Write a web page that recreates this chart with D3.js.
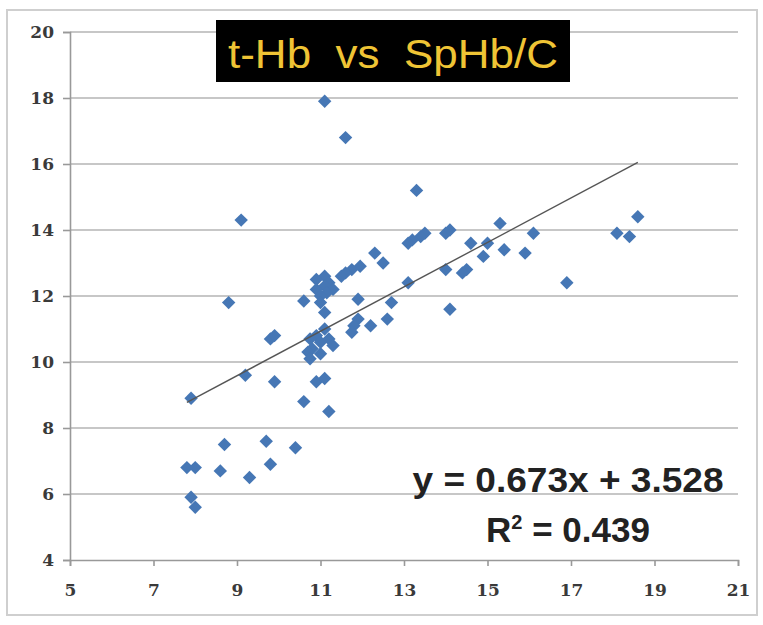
<!DOCTYPE html>
<html>
<head>
<meta charset="utf-8">
<script src="https://cdn.jsdelivr.net/npm/d3@7"></script>
<style>
  body { margin: 0; background: #fff; }
  svg { display: block; }
</style>
</head>
<body>
<svg id="chart" width="763" height="625"></svg>
<script>
'use strict';

// t-Hb (x) vs SpHb/C (y)
var tHb = [
  11.1, 11.6, 9.1, 8.8, 7.9, 9.2, 9.9, 9.8, 9.9, 10.6,
  11.2, 10.9, 11.1, 8.7, 9.7, 10.4, 7.8, 8.0, 8.6, 9.3,
  9.8, 7.9, 8.0, 13.3, 18.6, 18.1, 18.4, 16.9, 15.3, 16.1,
  15.9, 15.4, 15.0, 14.9, 14.6, 14.5, 14.4, 14.0, 14.1, 14.0,
  14.1, 13.5, 13.4, 13.2, 13.1, 13.1, 12.3, 12.5, 12.7, 12.2,
  12.6, 11.95, 11.75, 11.6, 11.5, 11.1, 10.9, 11.2, 11.1, 11.3,
  10.9, 11.15, 11.0, 10.6, 11.0, 11.1, 11.9, 11.9, 11.8, 11.75,
  11.1, 10.9, 11.2, 10.75, 11.0, 11.3, 10.8, 10.7, 11.0, 10.75
];
var spHb = [
  17.9, 16.8, 14.3, 11.8, 8.9, 9.6, 9.4, 10.7, 10.8, 8.8,
  8.5, 9.4, 9.5, 7.5, 7.6, 7.4, 6.8, 6.8, 6.7, 6.5,
  6.9, 5.9, 5.6, 15.2, 14.4, 13.9, 13.8, 12.4, 14.2, 13.9,
  13.3, 13.4, 13.6, 13.2, 13.6, 12.8, 12.7, 12.8, 11.6, 13.9,
  14.0, 13.9, 13.8, 13.7, 13.6, 12.4, 13.3, 13.0, 11.8, 11.1,
  11.3, 12.9, 12.8, 12.7, 12.6, 12.6, 12.5, 12.4, 12.3, 12.2,
  12.2, 12.1, 12.0, 11.85, 11.8, 11.5, 11.9, 11.3, 11.1, 10.9,
  11.0, 10.8, 10.7, 10.7, 10.6, 10.5, 10.4, 10.3, 10.25, 10.1
];

// regression line as printed on the chart
var slope = 0.673;
var intercept = 3.528;
var trendRange = [7.8, 18.6];

var xTicks = [5, 7, 9, 11, 13, 15, 17, 19, 21];
var yTicks = [4, 6, 8, 10, 12, 14, 16, 18, 20];

var titleText = 't-Hb  vs  SpHb/C';
var eqText = 'y = 0.673x + 3.528';
var r2Value = '0.439';

var svg = d3.select('#chart');

var x = d3.scaleLinear().domain([5, 21]).range([70, 738]);
var y = d3.scaleLinear().domain([4, 20]).range([560, 32]);

// outer frame
svg.append('rect')
  .attr('x', 7).attr('y', 10)
  .attr('width', 750).attr('height', 605)
  .attr('fill', '#fff')
  .attr('stroke', '#cfcfcf')
  .attr('stroke-width', 2);

// horizontal gridlines
svg.append('g')
  .selectAll('line')
  .data(yTicks.filter(function(d) { return d > 4; }))
  .join('line')
  .attr('x1', x(5)).attr('x2', x(21))
  .attr('y1', function(d) { return y(d); })
  .attr('y2', function(d) { return y(d); })
  .attr('stroke', '#b4b4b4')
  .attr('stroke-width', 1.6);

// axes
var yAxis = d3.axisLeft(y).tickValues(yTicks).tickSize(7).tickPadding(9);
var xAxis = d3.axisBottom(x).tickValues(xTicks).tickSize(6).tickPadding(18);

var gy = svg.append('g')
  .attr('transform', 'translate(' + x(5) + ',0)')
  .call(yAxis);

var gx = svg.append('g')
  .attr('transform', 'translate(0,' + y(4) + ')')
  .call(xAxis);

[gx, gy].forEach(function(g) {
  g.selectAll('.domain, .tick line')
    .attr('stroke', '#999')
    .attr('stroke-width', 1.6);
  g.selectAll('.tick text')
    .attr('fill', '#3a3a3a')
    .style('font-family', '"DejaVu Serif", serif')
    .style('font-weight', 'bold')
    .style('font-size', '17px');
});

// points - Excel style diamonds
var diamond = d3.symbol().type(d3.symbolSquare).size(90);

svg.append('g')
  .selectAll('path')
  .data(tHb.map(function(v, i) { return [v, spHb[i]]; }))
  .join('path')
  .attr('d', diamond)
  .attr('transform', function(d) {
    return 'translate(' + x(d[0]) + ',' + y(d[1]) + ') rotate(45)';
  })
  .attr('fill', '#4677b5');

// trendline
svg.append('line')
  .attr('x1', x(trendRange[0]))
  .attr('y1', y(slope * trendRange[0] + intercept))
  .attr('x2', x(trendRange[1]))
  .attr('y2', y(slope * trendRange[1] + intercept))
  .attr('stroke', '#555')
  .attr('stroke-width', 1.4);

// title box
svg.append('rect')
  .attr('x', 216).attr('y', 20)
  .attr('width', 354).attr('height', 62)
  .attr('fill', '#000');

svg.append('text')
  .attr('x', 393).attr('y', 68)
  .attr('text-anchor', 'middle')
  .attr('textLength', 330)
  .attr('lengthAdjust', 'spacingAndGlyphs')
  .attr('fill', '#efc435')
  .style('font-family', '"Liberation Sans", sans-serif')
  .style('font-size', '40px')
  .style('white-space', 'pre')
  .text(titleText);

// equation + r squared
var eq = svg.append('g')
  .style('font-family', '"Liberation Sans", sans-serif')
  .style('font-weight', 'bold')
  .style('font-size', '35px')
  .attr('fill', '#222')
  .attr('text-anchor', 'middle');

eq.append('text')
  .attr('x', 568).attr('y', 492)
  .attr('textLength', 311)
  .attr('lengthAdjust', 'spacingAndGlyphs')
  .text(eqText);

var r2 = eq.append('text')
  .attr('x', 568).attr('y', 542);
r2.append('tspan').text('R');
r2.append('tspan').attr('dy', -13).style('font-size', '20px').text('2');
r2.append('tspan').attr('dy', 13).text(' = ' + r2Value);
</script>
</body>
</html>
